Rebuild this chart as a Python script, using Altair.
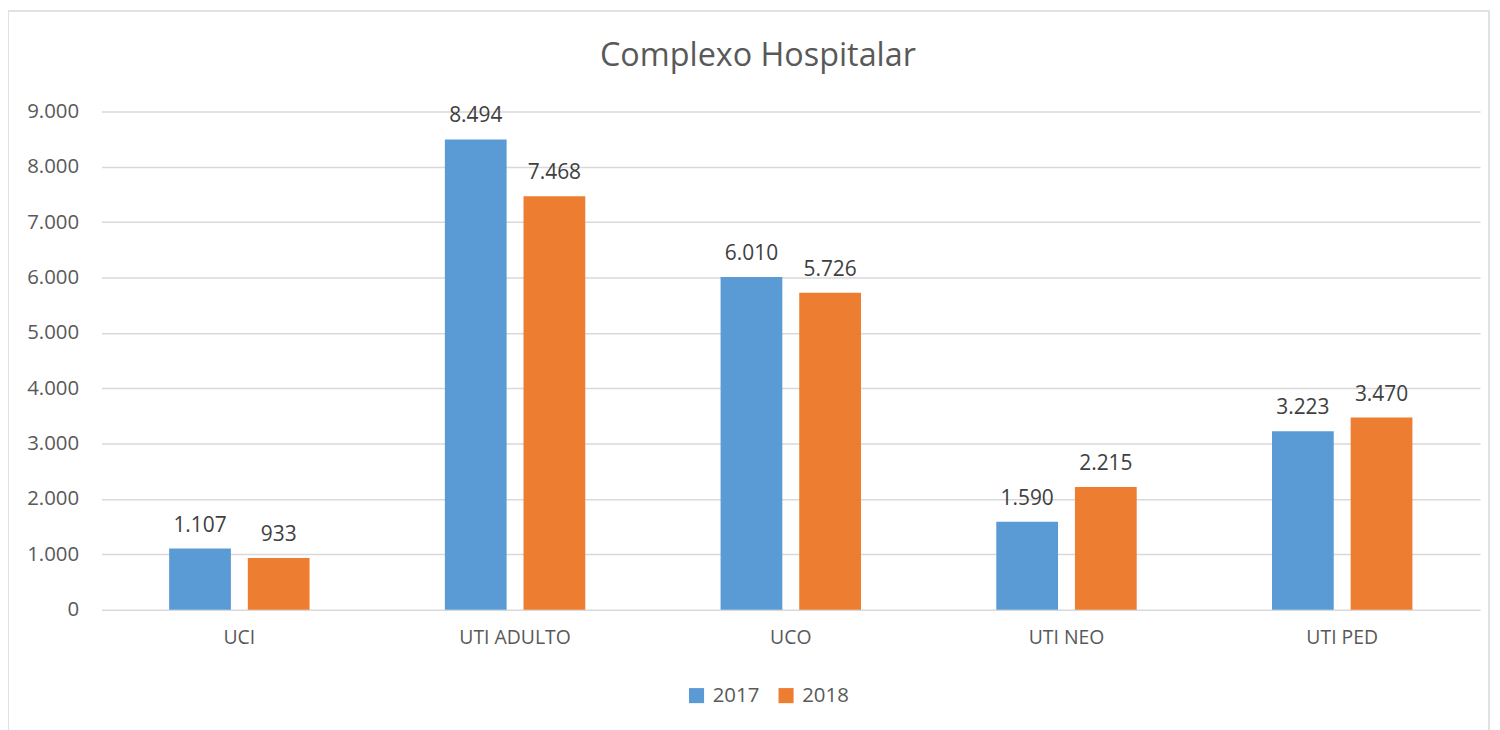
import altair as alt
import pandas as pd

categories = ["UCI", "UTI ADULTO", "UCO", "UTI NEO", "UTI PED"]
values_2017 = [1107, 8494, 6010, 1590, 3223]
values_2018 = [933, 7468, 5726, 2215, 3470]
years = ["2017", "2018"]
y_ticks = [0, 1000, 2000, 3000, 4000, 5000, 6000, 7000, 8000, 9000]
title_text = "Complexo Hospitalar"

rows = []
for c, a, b in zip(categories, values_2017, values_2018):
    rows.append({"cat": c, "year": years[0], "value": a})
    rows.append({"cat": c, "year": years[1], "value": b})
df = pd.DataFrame(rows)

FONT = "Open Sans"
GREY = "#595959"

base = alt.Chart(df).encode(
    x=alt.X("cat:N", sort=categories,
            scale=alt.Scale(paddingInner=0, paddingOuter=0),
            axis=alt.Axis(title=None, labelAngle=0, ticks=False, domain=False,
                          labelFontSize=19.5, labelColor=GREY, labelFont=FONT,
                          labelPadding=19, grid=False)),
    xOffset=alt.XOffset("year:N", sort=years,
                        scale=alt.Scale(paddingInner=0.215, paddingOuter=0.86)),
)

bars = base.mark_bar().encode(
    y=alt.Y("value:Q", scale=alt.Scale(domain=[0, 9000], nice=False),
            axis=alt.Axis(title=None, values=y_ticks, domain=False, ticks=False,
                          labelFontSize=20.5, labelColor=GREY, labelFont=FONT,
                          labelPadding=23, gridColor="#d9d9d9", gridWidth=1.5,
                          labelExpr="replace(format(datum.value, ','), ',', '.')")),
    color=alt.Color("year:N", sort=years,
                    scale=alt.Scale(domain=years, range=["#5B9BD5", "#ED7D31"]),
                    legend=alt.Legend(title=None, orient="none", direction="horizontal",
                                      legendX=588, legendY=577, symbolType="square",
                                      symbolSize=230, symbolStrokeWidth=0,
                                      labelFontSize=20.5, labelColor=GREY, labelFont=FONT,
                                      columnPadding=16, labelOffset=6)),
)

labels = base.transform_calculate(
    label="replace(format(datum.value, ','), ',', '.')"
).mark_text(baseline="alphabetic", dy=-17, fontSize=21, font=FONT, color="#404040").encode(
    y=alt.Y("value:Q"),
    text="label:N",
)

frame = alt.Chart(alt.Data(values=[{}])).mark_rect(
    fill=None, stroke="#d9d9d9", strokeWidth=1.5
).encode(
    x=alt.value(-94), x2=alt.value(1395), y=alt.value(-101), y2=alt.value(640)
)

title = alt.Chart(alt.Data(values=[{}])).mark_text(
    text=title_text, fontSize=32.5, font=FONT, color=GREY, align="center",
    baseline="alphabetic"
).encode(x=alt.value(660), y=alt.value(-46))

chart = alt.layer(frame, title, bars, labels).properties(
    width=1386, height=501,
    padding={"left": 94, "top": 102, "right": 12, "bottom": 119},
    autosize=alt.AutoSizeParams(type="none"),
).configure_view(stroke=None)

chart.save("out.html", embed_options={"renderer": "svg", "actions": False})
